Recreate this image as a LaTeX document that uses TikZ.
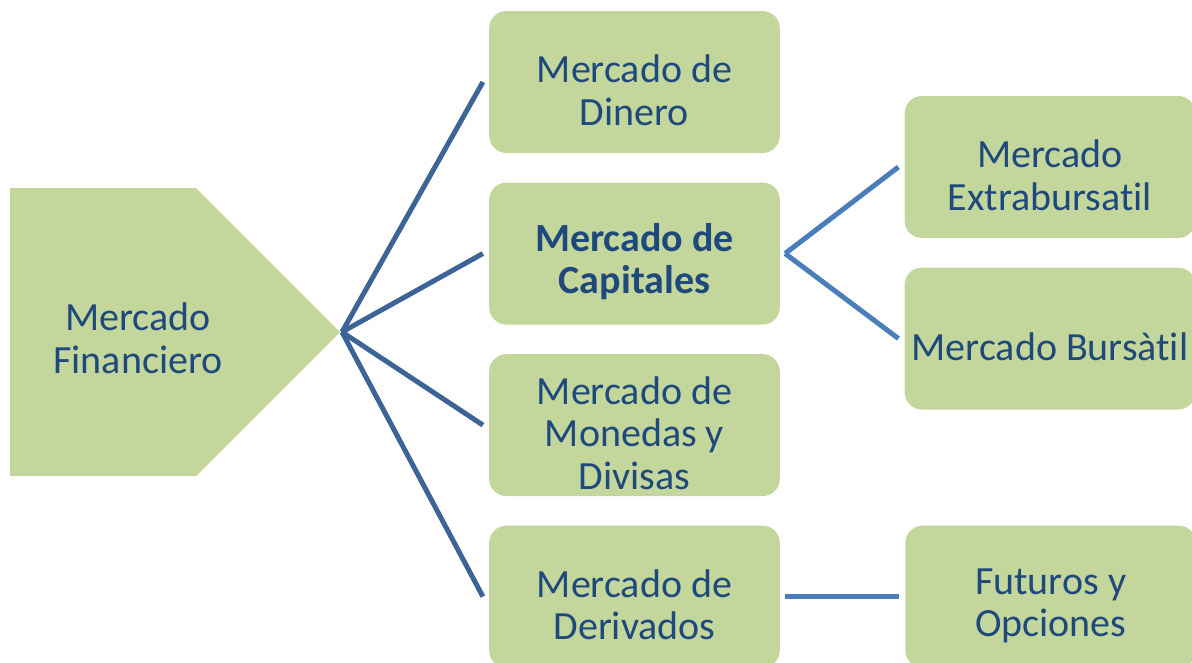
\documentclass[tikz,border=0pt]{standalone}
\usepackage{fontspec}
\setmainfont[Ligatures=NoCommon]{Carlito}
\usetikzlibrary{positioning}

\definecolor{boxgreen}{HTML}{C3D69B}
\definecolor{txtblue}{HTML}{1F497D}
\definecolor{fanblue}{HTML}{3C6496}
\definecolor{branchblue}{HTML}{4A7EBB}

% pushes the text of a box a little lower
\newcommand{\boxstrut}{\rule{0pt}{33pt}}

\begin{document}
\begin{tikzpicture}[x=0.75pt, y=-0.75pt, node distance=21.75pt and 93.75pt,
  every node/.style={align=center, text=txtblue, font=\fontsize{30}{32}\selectfont},
  mbox/.style={rectangle, rounded corners=13pt, fill=boxgreen, minimum width=218pt, minimum height=106.5pt, inner sep=0pt},
  fan/.style={draw=fanblue, line width=3.75pt},
  branch/.style={draw=branchblue, line width=3.75pt}]

\clip (0,0) rectangle (1192,662);
\useasboundingbox (0,0) rectangle (1192,662);

% Left arrow shape
\fill[boxgreen] (10,188) -- (196,188) -- (340,332) -- (196,476) -- (10,476) -- cycle;
\coordinate (tip) at (342,332);
\node (financiero) at (138,338) {Mercado\\ Financiero};

% Main market nodes
\node (dinero) [mbox] at (634.5,82) {\boxstrut Mercado de\\ Dinero};
\node (capitales) [mbox, below=of dinero, font=\fontsize{30}{32}\selectfont\bfseries] {\boxstrut Mercado de\\ Capitales};
\node (monedas) [mbox, below=of capitales] {\boxstrut Mercado de\\ Monedas y\\ Divisas};
\node (derivados) [mbox, below=of monedas] {\boxstrut Mercado de\\ Derivados};

% Sub-market nodes
\node (extra) [mbox] at (1050,167) {\boxstrut Mercado\\ Extrabursatil};
\node (bursatil) [mbox, below=of extra] {\boxstrut Mercado Bursàtil};
\node (opciones) [mbox, right=of derivados] {\boxstrut Futuros y\\ Opciones};

% Connectors
\draw[fan] (tip) -- ([xshift=-4.5pt]dinero.west);
\draw[fan] (tip) -- ([xshift=-4.5pt]capitales.west);
\draw[fan] (tip) -- ([xshift=-4.5pt]monedas.west);
\draw[fan] (tip) -- ([xshift=-4.5pt]derivados.west);
\draw[branch] ([xshift=3.75pt]capitales.east) -- ([xshift=-4.5pt]extra.west);
\draw[branch] ([xshift=3.75pt]capitales.east) -- ([xshift=-4.5pt]bursatil.west);
\draw[branch] ([xshift=3.75pt]derivados.east) -- ([xshift=-4.5pt]opciones.west);

\end{tikzpicture}
\end{document}
